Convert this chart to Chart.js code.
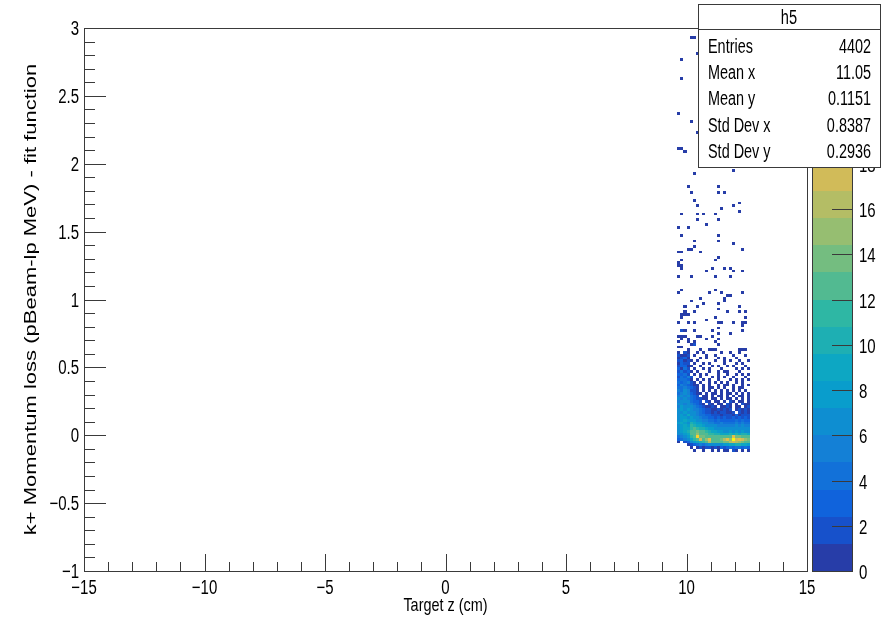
<!DOCTYPE html>
<html lang="en">
<head>
<meta charset="UTF-8">
<title>h5</title>
<script src="https://cdn.jsdelivr.net/npm/chart.js"></script>
<style>
  html, body { margin: 0; padding: 0; background: #fff; }
</style>
</head>
<body>
<canvas id="h5" width="883" height="621"></canvas>
<script>
// binning of h5 around the filled region
const xLow = 9.625, dx = 0.125;
const yLow = -0.12, dy = 0.02;

// dense core, one string per y-bin from y = 0.60 (top) down to y = -0.12
// 24 x-bins each, '.' = empty, 1-9, a = 10 ... o = 24
const coreRows = [
  "1.21..1.1.....1..1..1...",
  "2112.1...1..1.....1...1.",
  "1231...1.1...1.1...1....",
  "23121.1.....1..1.1..1..1",
  "1322.1..1.1....1...1.1..",
  "23311..1...1.1..1.1...1.",
  "3142.1..1.1...1....1.1.1",
  "24231.1...1..1.11...1...",
  "3342.1.1.1...1..1..1.1.1",
  "24352..1...1.1.1..1...1.",
  "34431.1.1.1..1...1.1.1.1",
  "434521.1..1.1.1.1..1.1..",
  "3543211.1.1..1.11.1..1.1",
  "4454321.1.11.1.1..1.11..",
  "5465221.1.1.1.1.1.1.1.1.",
  "45653211.1.11.1.11.1.1.1",
  "5656432.11.1.11.1.1.11.1",
  "6575432211.11.1.11.1.1.1",
  "56764332.21.11.1.21.11.1",
  "675754321.21.11.21.1.211",
  "5867654321121.1121.11.12",
  "687865543221121212.12121",
  "7686765432212122112.2121",
  "687976544332221222131222",
  "788787654433232322323232",
  "789888765544343333343433",
  "8987a9887655445444454544",
  "7898ba998776655555565655",
  "7899bcbaa988777666766666",
  "789acdeccba9988778787877",
  "6789cdfddcbbaa999a9a9aa9",
  "4568bcleedccccdccdieedcd",
  "34569bchdfidddegifohihfe",
  "1.23689abcgcccdeeghgfedc",
  "...1234545666778899aa998",
  "....1.121221213234344343",
  ".....1..1..1.1.11.21.1.1"
];

// isolated entries in the tail above the core (one entry each)
const tailX = [
  10.31, 10.19, 9.77, 10.48, 9.85, 9.69, 10.19, 10.48, 9.73, 9.81, 9.94, 10.35, 11.93,
  10.06, 11.27, 10.15, 11.35, 11.56, 10.27, 10.44, 12.14, 11.93, 11.43, 9.85, 10.44, 10.68, 11.14, 12.14, 10.44, 11.27, 10.77, 9.65, 10.06,
  9.77, 11.27, 11.27, 10.35, 11.93, 12.34, 10.35, 10.06, 10.19, 9.65, 9.77, 10.56, 9.77, 9.65, 9.85, 9.85, 9.65, 11.14, 11.27, 10.77, 11.02, 11.56, 11.85, 12.34, 11.93, 9.65, 10.15, 11.18, 11.76,
  9.65, 9.77, 10.93, 11.14, 11.39, 11.68, 11.85, 11.56, 12.34, 10.15, 10.52, 10.73, 11.31, 11.56, 9.94, 9.94, 10.44, 11.27, 11.64, 12.14, 12.14, 12.47,
  9.77, 9.94, 10.06, 10.27, 10.85, 11.14, 12.43, 9.65, 9.85, 10.06, 10.27, 10.27, 11.27, 11.43, 11.93, 12.26, 12.26, 12.47, 11.02, 11.27, 11.85, 12.26,
  9.77, 9.85, 9.94, 9.65, 9.85, 9.94, 10.06, 10.44, 10.56, 10.85, 11.02, 11.35, 11.35, 11.18, 9.65, 9.85, 10.10, 10.27, 10.35,
  9.65, 9.77, 10.06, 10.19, 10.35, 10.52, 10.93, 11.06, 11.18, 11.31, 12.14, 12.26, 12.47
];
const tailY = [
  2.93, 2.92, 2.77, 2.80, 2.63, 2.36, 2.30, 2.22, 2.10, 2.10, 2.08, 1.93, 1.95,
  1.82, 1.82, 1.78, 1.78, 1.79, 1.73, 1.68, 1.71, 1.68, 1.66, 1.63, 1.63, 1.62, 1.62, 1.65, 1.58, 1.58, 1.54, 1.52, 1.52,
  1.47, 1.46, 1.43, 1.43, 1.40, 1.36, 1.39, 1.37, 1.37, 1.34, 1.34, 1.34, 1.28, 1.27, 1.24, 1.22, 1.24, 1.28, 1.30, 1.21, 1.22, 1.22, 1.22, 1.21, 1.20, 1.17, 1.17, 1.17, 1.17,
  1.05, 1.06, 1.05, 1.06, 1.04, 1.03, 1.03, 1.01, 1.04, 0.99, 1.01, 0.97, 0.96, 0.99, 0.95, 0.91, 0.94, 0.92, 0.91, 0.95, 0.91, 0.91,
  0.88, 0.89, 0.89, 0.91, 0.84, 0.86, 0.86, 0.83, 0.86, 0.82, 0.82, 0.77, 0.83, 0.82, 0.83, 0.83, 0.80, 0.83, 0.76, 0.79, 0.74, 0.76,
  0.76, 0.76, 0.76, 0.73, 0.73, 0.73, 0.71, 0.73, 0.73, 0.71, 0.73, 0.74, 0.70, 0.69, 0.69, 0.71, 0.68, 0.66, 0.68,
  0.64, 0.64, 0.63, 0.66, 0.66, 0.63, 0.62, 0.62, 0.63, 0.66, 0.63, 0.63, 0.63
];

const xTicks = [-15, -10, -5, 0, 5, 10, 15];
const yTicks = [-1, -0.5, 0, 0.5, 1, 1.5, 2, 2.5, 3];
const zTicks = [0, 2, 4, 6, 8, 10, 12, 14, 16, 18, 20, 22, 24];

const statLabels = ["Entries", "Mean x", "Mean y", "Std Dev x", "Std Dev y"];
const statValues = ["4402", "11.05", "0.1151", "0.8387", "0.2936"];

// kBird palette, 20 contour levels
const birdStops = [0.0000, 0.1250, 0.2500, 0.3750, 0.5000, 0.6250, 0.7500, 0.8750, 1.0000];
const birdR = [0.2082, 0.0592, 0.0780, 0.0232, 0.1802, 0.5301, 0.8186, 0.9956, 0.9764];
const birdG = [0.1664, 0.3599, 0.5041, 0.6419, 0.7178, 0.7492, 0.7328, 0.7862, 0.9832];
const birdB = [0.5293, 0.8684, 0.8385, 0.7914, 0.6425, 0.4662, 0.3499, 0.1968, 0.0539];
const nLevels = 20;

function birdColor(f) {
  let i = 0;
  while (i < birdStops.length - 2 && f > birdStops[i + 1]) i++;
  const t = (f - birdStops[i]) / (birdStops[i + 1] - birdStops[i]);
  const c = arr => Math.round(255 * (arr[i] + (arr[i + 1] - arr[i]) * t));
  return `rgb(${c(birdR)},${c(birdG)},${c(birdB)})`;
}
const levelColors = [];
for (let i = 0; i < nLevels; i++) {
  levelColors.push(birdColor(Math.floor((i + 0.99) * 255 / nLevels) / 254));
}

// fill the bins
const cells = {};
coreRows.forEach((row, r) => {
  const iy = coreRows.length - 1 - r;
  row.split('').forEach((ch, ix) => {
    const n = parseInt(ch, 36);
    if (n > 0) cells[ix + ',' + iy] = n;
  });
});
tailX.forEach((x, i) => {
  const k = Math.floor((x - xLow) / dx) + ',' + Math.floor((tailY[i] - yLow) / dy + 1e-9);
  cells[k] = (cells[k] || 0) + 1;
});
const cellData = Object.keys(cells).map(k => {
  const [ix, iy] = k.split(',').map(Number);
  return { x: xLow + (ix + 0.5) * dx, y: yLow + (iy + 0.5) * dy, v: cells[k] };
});
const zMax = Math.max(...cellData.map(c => c.v));

function levelColor(v) {
  return levelColors[Math.min(nLevels - 1, Math.floor(v * nLevels / zMax))];
}

const FONT = '"Liberation Sans", Arial, Helvetica, sans-serif';
const LINE = '#3a3a3a';

function text(ctx, str, x, y, size, align, squeeze) {
  ctx.save();
  ctx.translate(x, y);
  ctx.scale(squeeze, 1);
  ctx.font = size + 'px ' + FONT;
  ctx.textAlign = align;
  ctx.textBaseline = 'alphabetic';
  ctx.fillStyle = '#000';
  ctx.fillText(str, 0, 0);
  ctx.restore();
}
function line(ctx, x0, y0, x1, y1) {
  ctx.beginPath();
  ctx.moveTo(x0, y0);
  ctx.lineTo(x1, y1);
  ctx.stroke();
}
const fmt = v => (v < 0 ? '\u2212' + Math.abs(v) : String(v));

const th2Painter = {
  id: 'th2Painter',
  beforeDatasetsDraw(chart) {
    const { ctx, chartArea: a, scales: { x, y } } = chart;
    ctx.save();
    ctx.beginPath();
    ctx.rect(a.left, a.top, a.right - a.left, a.bottom - a.top);
    ctx.clip();
    chart.data.datasets[0].data.forEach(c => {
      const x0 = Math.round(x.getPixelForValue(c.x - dx / 2));
      const x1 = Math.round(x.getPixelForValue(c.x + dx / 2));
      const y0 = Math.round(y.getPixelForValue(c.y + dy / 2));
      const y1 = Math.round(y.getPixelForValue(c.y - dy / 2));
      ctx.fillStyle = levelColor(c.v);
      ctx.fillRect(x0, y0, x1 - x0, y1 - y0);
    });
    ctx.restore();
  },
  afterDraw(chart) {
    const { ctx, chartArea: a, scales: { x, y, z } } = chart;
    ctx.save();
    ctx.strokeStyle = LINE;
    ctx.lineWidth = 1;

    // frame
    ctx.strokeRect(a.left + 0.5, a.top + 0.5, a.right - a.left, a.bottom - a.top);

    // x ticks: major every 5, minor every 1
    for (let v = xTicks[0]; v <= xTicks[xTicks.length - 1]; v += 1) {
      const px = Math.round(x.getPixelForValue(v)) + 0.5;
      line(ctx, px, a.bottom, px, a.bottom - (v % 5 === 0 ? 17 : 9));
    }
    // y ticks: major every 0.5, minor every 0.1
    for (let k = 0; k <= 40; k++) {
      const v = yTicks[0] + k * 0.1;
      const py = Math.round(y.getPixelForValue(v)) + 0.5;
      line(ctx, a.left, py, a.left + (k % 5 === 0 ? 22 : 11), py);
    }
    xTicks.forEach(v => text(ctx, fmt(v), x.getPixelForValue(v), a.bottom + 23, 20, 'center', 0.75));
    yTicks.forEach(v => text(ctx, fmt(v), a.left - 5, y.getPixelForValue(v) + 7, 20, 'right', 0.75));

    // axis titles
    text(ctx, 'Target z (cm)', (a.left + a.right) / 2, 611, 19, 'center', 0.76);
    ctx.save();
    ctx.translate(36, (a.top + a.bottom) / 2);
    ctx.rotate(-Math.PI / 2);
    ctx.scale(1, 0.78);
    ctx.font = '22px ' + FONT;
    ctx.textAlign = 'center';
    ctx.textBaseline = 'alphabetic';
    ctx.fillStyle = '#000';
    ctx.fillText('k+ Momentum loss (pBeam-lp MeV) - fit function', 0, 0);
    ctx.restore();

    // colour palette
    const pl = 812, pr = 852;
    for (let k = 0; k < nLevels; k++) {
      const y0 = Math.round(z.getPixelForValue(k * zMax / nLevels));
      const y1 = Math.round(z.getPixelForValue((k + 1) * zMax / nLevels));
      ctx.fillStyle = levelColors[k];
      ctx.fillRect(pl, y1, pr - pl, y0 - y1);
    }
    ctx.strokeRect(pl + 0.5, a.top + 0.5, pr - pl, a.bottom - a.top);
    zTicks.forEach(v => {
      const py = Math.round(z.getPixelForValue(v)) + 0.5;
      line(ctx, pr, py, pr - 20, py);
      text(ctx, String(v), pr + 7, py + 7, 20, 'left', 0.75);
    });

    // statistics box
    const sl = 698, sr = 880, st = 4, sb = 167;
    ctx.fillStyle = '#fff';
    ctx.fillRect(sl, st, sr - sl, sb - st);
    ctx.strokeRect(sl + 0.5, st + 0.5, sr - sl, sb - st);
    line(ctx, sl, 29.5, sr, 29.5);
    text(ctx, 'h5', (sl + sr) / 2, 24, 19.5, 'center', 0.75);
    const rowBase = [53, 79, 105, 132, 158];
    statLabels.forEach((s, i) => {
      text(ctx, s, sl + 10, rowBase[i], 19.5, 'left', 0.74);
      text(ctx, statValues[i], sr - 9, rowBase[i], 19.5, 'right', 0.74);
    });
    ctx.restore();
  }
};

new Chart(document.getElementById('h5'), {
  type: 'scatter',
  data: {
    datasets: [{ label: 'h5', data: cellData, pointRadius: 0, pointHoverRadius: 0 }]
  },
  options: {
    responsive: false,
    animation: false,
    devicePixelRatio: 1,
    events: [],
    layout: { padding: { left: 84, right: 76, top: 28, bottom: 50 } },
    plugins: { legend: { display: false }, tooltip: { enabled: false } },
    scales: {
      x: { type: 'linear', min: -15, max: 15, display: false },
      y: { type: 'linear', min: -1, max: 3, display: false },
      z: { type: 'linear', axis: 'y', position: 'right', min: 0, max: zMax, display: false }
    }
  },
  plugins: [th2Painter]
});
</script>
</body>
</html>
